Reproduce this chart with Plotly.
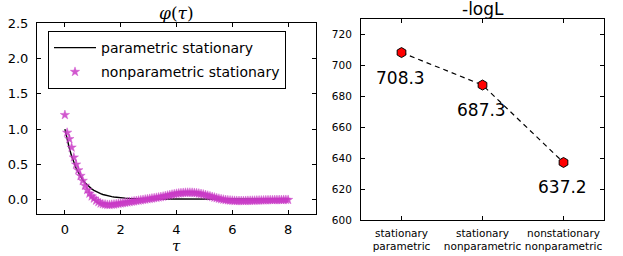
import plotly.graph_objects as go

# ---- left panel data: phi(tau) ----
tau = [0.00, 0.08, 0.16, 0.24, 0.32, 0.40, 0.48, 0.56, 0.64, 0.72,
       0.80, 0.88, 0.96, 1.04, 1.12, 1.20, 1.28, 1.36, 1.44, 1.52,
       1.60, 1.68, 1.76, 1.84, 1.92, 2.00, 2.08, 2.16, 2.24, 2.32,
       2.40, 2.48, 2.56, 2.64, 2.72, 2.80, 2.88, 2.96, 3.04, 3.12,
       3.20, 3.28, 3.36, 3.44, 3.52, 3.60, 3.68, 3.76, 3.84, 3.92,
       4.00, 4.08, 4.16, 4.24, 4.32, 4.40, 4.48, 4.56, 4.64, 4.72,
       4.80, 4.88, 4.96, 5.04, 5.12, 5.20, 5.28, 5.36, 5.44, 5.52,
       5.60, 5.68, 5.76, 5.84, 5.92, 6.00, 6.08, 6.16, 6.24, 6.32,
       6.40, 6.48, 6.56, 6.64, 6.72, 6.80, 6.88, 6.96, 7.04, 7.12,
       7.20, 7.28, 7.36, 7.44, 7.52, 7.60, 7.68, 7.76, 7.84, 7.92,
       8.00]
phi_nonparametric = [1.20, 0.95, 0.86, 0.74, 0.60, 0.50, 0.42, 0.34, 0.27, 0.20,
                     0.14, 0.09, 0.05, 0.02, -0.01, -0.03, -0.05, -0.06, -0.065, -0.07,
                     -0.07, -0.068, -0.065, -0.06, -0.055, -0.05, -0.045, -0.04, -0.035, -0.03,
                     -0.025, -0.02, -0.015, -0.01, -0.005, 0.0, 0.005, 0.01, 0.015, 0.02,
                     0.025, 0.03, 0.035, 0.04, 0.047, 0.054, 0.061, 0.068, 0.075, 0.081,
                     0.087, 0.092, 0.096, 0.099, 0.101, 0.102, 0.102, 0.101, 0.099, 0.095,
                     0.09, 0.084, 0.077, 0.069, 0.06, 0.051, 0.042, 0.033, 0.025, 0.017,
                     0.01, 0.004, -0.001, -0.005, -0.008, -0.011, -0.013, -0.014, -0.015, -0.015,
                     -0.015, -0.014, -0.013, -0.012, -0.011, -0.01, -0.009, -0.008, -0.007, -0.006,
                     -0.005, -0.004, -0.003, -0.003, -0.002, -0.002, -0.001, -0.001, 0.0, 0.0,
                     0.0]

tau_line = [0.00, 0.08, 0.16, 0.24, 0.32, 0.40, 0.48, 0.56, 0.64, 0.72,
            0.80, 0.88, 0.96, 1.04, 1.12, 1.20, 1.28, 1.36, 1.44, 1.52,
            1.60, 1.68, 1.76, 1.84, 1.92, 2.00, 2.16, 2.32, 2.48, 2.64,
            2.80, 3.00, 3.50, 4.00, 5.00, 6.00, 7.00, 8.00]
phi_parametric = [1.00, 0.85, 0.73, 0.62, 0.53, 0.45, 0.39, 0.33, 0.28, 0.24,
                  0.21, 0.18, 0.155, 0.135, 0.115, 0.10, 0.087, 0.076, 0.066, 0.058,
                  0.051, 0.045, 0.040, 0.035, 0.031, 0.028, 0.024, 0.021, 0.018, 0.016,
                  0.015, 0.014, 0.012, 0.011, 0.011, 0.010, 0.010, 0.010]

# ---- right panel data: -logL ----
models = ["stationary<br>parametric", "stationary<br>nonparametric", "nonstationary<br>nonparametric"]
neg_logL = [708.3, 687.3, 637.2]
neg_logL_labels = ["708.3", "687.3", "637.2"]

W, H = 623, 256
FONT = "DejaVu Sans"

fig = go.Figure()

fig.add_trace(go.Scatter(
    x=tau_line, y=phi_parametric, mode="lines", name="parametric stationary",
    line=dict(color="black", width=1.4), xaxis="x", yaxis="y", legendgroup="a"))
fig.add_trace(go.Scatter(
    x=tau, y=phi_nonparametric, mode="markers", name="nonparametric stationary",
    marker=dict(symbol="star", size=7, color="#c93ac6", opacity=0.85,
                line=dict(width=0.5, color="#c93ac6")),
    xaxis="x", yaxis="y", legendgroup="b"))

fig.add_trace(go.Scatter(
    x=models, y=neg_logL, mode="lines+markers", showlegend=False,
    line=dict(color="black", width=1.2, dash="5px,4px"),
    marker=dict(symbol="hexagon", size=10, color="#ff0000",
                line=dict(color="black", width=1)),
    xaxis="x2", yaxis="y2"))

annotations = []
for m, v, lab in zip(models, neg_logL, neg_logL_labels):
    annotations.append(dict(x=m, y=v, xref="x2", yref="y2", text=lab,
                            showarrow=False, yshift=-25, xshift=-1,
                            font=dict(family=FONT, size=17, color="black")))
annotations.append(dict(x=0.5, y=1 - 13 / H, xref="x domain", yref="paper",
                        xanchor="center", yanchor="middle",
                        text="<i>φ</i>(<i>τ</i>)", showarrow=False,
                        font=dict(family="DejaVu Serif", size=17, color="black")))
annotations.append(dict(x=0.5, y=1 - 246 / H, xref="x domain", yref="paper",
                        xanchor="center", yanchor="middle",
                        text="<i>τ</i>", showarrow=False,
                        font=dict(family="DejaVu Serif", size=15, color="black")))
annotations.append(dict(x=0.5, y=1 - 9 / H, xref="x2 domain", yref="paper",
                        xanchor="center", yanchor="middle",
                        text="-logL", showarrow=False,
                        font=dict(family=FONT, size=17, color="black")))

axis_common = dict(showline=True, linecolor="black", linewidth=1, mirror="allticks",
                   ticks="inside", ticklen=4, tickcolor="black", showgrid=False,
                   zeroline=False, automargin=False, tickangle=0)

fig.update_layout(
    width=W, height=H, margin=dict(l=0, r=0, t=0, b=0),
    paper_bgcolor="white", plot_bgcolor="white",
    font=dict(family=FONT, color="black"),
    xaxis=dict(domain=[37 / W, 316 / W], range=[-1, 9], dtick=2, tick0=0,
               tickfont=dict(size=13), anchor="y", ticklabelstandoff=3, **axis_common),
    yaxis=dict(domain=[1 - 214 / H, 1 - 23 / H], range=[-0.2, 2.5], dtick=0.5, tick0=0,
               tickformat=".1f", tickfont=dict(size=13), anchor="x", ticklabelstandoff=5,
               **axis_common),
    xaxis2=dict(domain=[361 / W, 604 / W], range=[-0.5, 2.5], type="category",
                tickfont=dict(size=10.5), anchor="y2", ticklabelstandoff=3, **axis_common),
    yaxis2=dict(domain=[1 - 220 / H, 1 - 19 / H], range=[600, 730], dtick=20, tick0=600,
                tickfont=dict(size=10.5), anchor="x2", ticklabelstandoff=6, **axis_common),
    legend=dict(x=48 / W, y=1 - 31 / H, xanchor="left", yanchor="top",
                bordercolor="black", borderwidth=1, bgcolor="white",
                font=dict(family=FONT, size=14), tracegroupgap=3,
                itemwidth=42, entrywidth=228, entrywidthmode="pixels"),
    annotations=annotations,
)

fig.write_html("out.html", config={"displayModeBar": False},
               post_script="document.body.style.margin='0';document.body.style.overflow='hidden';")
